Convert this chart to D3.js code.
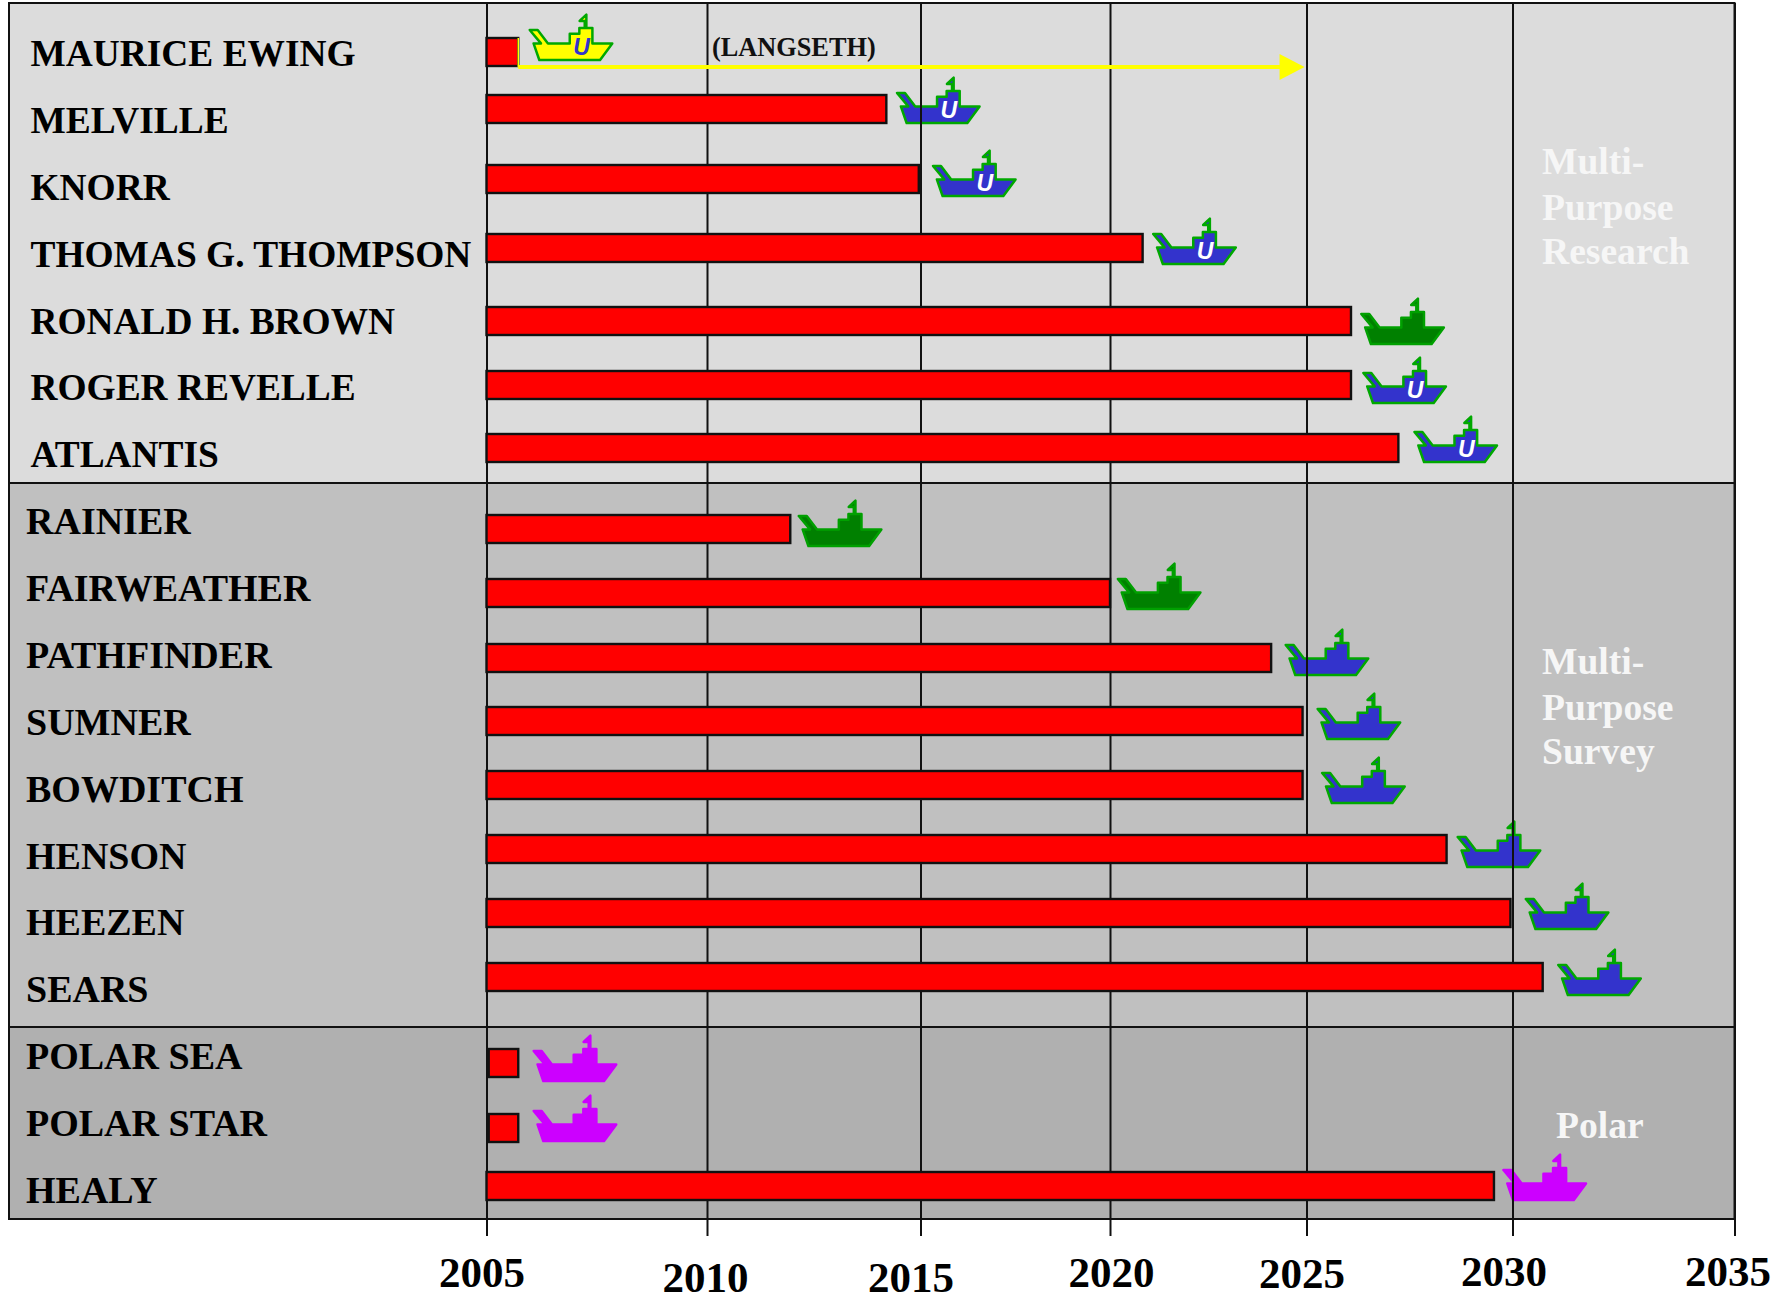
<!DOCTYPE html>
<html>
<head>
<meta charset="utf-8">
<script src="https://cdn.jsdelivr.net/npm/d3@7"></script>
<style>
  body { margin: 0; background: #fff; }
  text { font-family: "Liberation Serif", serif; font-weight: bold; }
</style>
</head>
<body>
<div id="chart"></div>
<script>
// data
const ships = ['MAURICE EWING', 'MELVILLE', 'KNORR', 'THOMAS G. THOMPSON', 'RONALD H. BROWN', 'ROGER REVELLE', 'ATLANTIS',
  'RAINIER', 'FAIRWEATHER', 'PATHFINDER', 'SUMNER', 'BOWDITCH', 'HENSON', 'HEEZEN', 'SEARS',
  'POLAR SEA', 'POLAR STAR', 'HEALY'];
const startYears = [2005, 2005, 2005, 2005, 2005, 2005, 2005, 2005, 2005, 2005, 2005, 2005, 2005, 2005, 2005, 2005.05, 2005.05, 2005];
const endYears = [2005.72, 2014.2, 2014.96, 2020.83, 2026.08, 2026.08, 2027.23, 2011.95, 2020, 2024.1, 2024.9, 2024.9, 2028.4, 2029.95, 2030.68, 2005.72, 2005.72, 2029.55];
const shipYears = [2005.98, 2014.45, 2015.33, 2021.1, 2026.33, 2026.38, 2027.62, 2012.15, 2020.2, 2024.47, 2025.27, 2025.38, 2028.67, 2030.3, 2031.03, 2006.07, 2006.07, 2029.78];
const shipKinds = ['yellow', 'blueU', 'blueU', 'blueU', 'green', 'blueU', 'blueU', 'green', 'green', 'blue', 'blue', 'blue', 'blue', 'blue', 'blue', 'magenta', 'magenta', 'magenta'];
const tickYears = [2005, 2010, 2015, 2020, 2025, 2030, 2035];
const arrowYears = [2005.72, 2024.95];

// layout
const width = 1786, height = 1293;
const tickPx = [486.5, 707, 920.5, 1110, 1306.5, 1512.5, 1734.5];
const rowCentres = [52, 109, 179, 248, 321, 385, 448, 529, 593, 658, 721, 785, 849, 913, 977, 1063, 1128, 1186];
const shipBottoms = [60, 123, 196, 264, 344, 403, 462, 546, 609, 675, 739, 803, 867, 929, 995, 1081, 1141, 1200];
const tickLabelX = [-5, -2, -10, 1, -5, -9, -7];
const tickLabelY = [1287, 1292, 1292, 1287, 1288, 1286, 1286];
const bands = [
  { top: 3, bottom: 483, fill: '#dcdcdc', first: 0, last: 6, labelX: 30.5, labelSize: 37.4 },
  { top: 483, bottom: 1027, fill: '#c0c0c0', first: 7, last: 14, labelX: 26, labelSize: 38 },
  { top: 1027, bottom: 1219, fill: '#b0b0b0', first: 15, last: 17, labelX: 26, labelSize: 38 }
];
const panelLeft = 9;
const barHeight = 28;

const groupLabels = [
  { lines: ['Multi-', 'Purpose', 'Research'], x: 1542, y: [174, 220, 264] },
  { lines: ['Multi-', 'Purpose', 'Survey'], x: 1542, y: [674, 720, 764] },
  { lines: ['Polar'], x: 1556, y: [1138] }
];

const kindStyle = {
  yellow: { fill: '#ffff00', stroke: '#00a800', letter: '#3333cc' },
  blueU: { fill: '#3333cc', stroke: '#00a800', letter: '#ffffff' },
  blue: { fill: '#3333cc', stroke: '#00a800' },
  green: { fill: '#008000', stroke: '#00a000' },
  magenta: { fill: '#cc00ff', stroke: '#cc00ff' }
};

const svg = d3.select('#chart').append('svg')
  .attr('width', width)
  .attr('height', height);

// the year axis in the picture is not evenly spaced
const x = d3.scaleLinear().domain(tickYears).range(tickPx);
const rowY = d3.scaleOrdinal().domain(ships).range(rowCentres);
const shipY = d3.scaleOrdinal().domain(ships).range(shipBottoms);
const labelY = d3.scalePoint().domain(ships).range([66, 1203]);

const rows = ships.map((name, i) => {
  const band = bands.find(b => i >= b.first && i <= b.last);
  return {
    name, start: startYears[i], end: endYears[i], shipYear: shipYears[i], kind: shipKinds[i],
    labelX: band.labelX, labelSize: band.labelSize
  };
});

// background bands
svg.selectAll('.band')
  .data(bands)
  .enter().append('rect')
  .attr('class', 'band')
  .attr('x', panelLeft)
  .attr('y', d => d.top)
  .attr('width', x(2035) - panelLeft)
  .attr('height', d => d.bottom - d.top)
  .attr('fill', d => d.fill)
  .attr('stroke', '#111')
  .attr('stroke-width', 2);

// ship icons, drawn from the lower left corner of the hull
const hull = [[0, -31.3], [8.3, -31.3], [19, -17.3], [41.7, -17.3], [41.7, -27.3], [51.7, -27.3], [51.7, -33.3],
  [57.3, -33.3], [57.3, -40.7], [52, -40.7], [59, -47.3], [59, -33.3], [65.3, -33.3], [65.3, -17.3], [86, -17.3],
  [73.3, 0], [10, 0], [4, -17.3], [11.7, -17.3]];

const ship = svg.selectAll('.ship')
  .data(rows)
  .enter().append('g')
  .attr('class', 'ship')
  .attr('transform', d => `translate(${x(d.shipYear)},${shipY(d.name)}) scale(0.96)`);

ship.append('path')
  .attr('d', d3.line()(hull) + 'Z')
  .attr('fill', d => kindStyle[d.kind].fill)
  .attr('stroke', d => kindStyle[d.kind].stroke)
  .attr('stroke-width', 2.6)
  .attr('stroke-linejoin', 'round');

ship.filter(d => kindStyle[d.kind].letter)
  .append('text')
  .attr('x', 54)
  .attr('y', -5)
  .attr('text-anchor', 'middle')
  .style('font-family', '"Liberation Sans", sans-serif')
  .style('font-style', 'italic')
  .style('font-size', '24px')
  .attr('fill', d => kindStyle[d.kind].letter)
  .text('U');

// grid lines and ticks come from the axis, they sit on top of the ships
const axis = svg.append('g')
  .attr('transform', `translate(0,${bands[2].bottom})`)
  .call(d3.axisBottom(x).tickValues(tickYears).tickFormat(d3.format('d')).tickSize(17));
axis.select('.domain').remove();
axis.selectAll('.tick line').attr('stroke', '#111').attr('stroke-width', 2);
axis.selectAll('.tick').append('line')
  .attr('y1', 0)
  .attr('y2', bands[0].top - bands[2].bottom)
  .attr('stroke', '#111')
  .attr('stroke-width', 2);
axis.selectAll('.tick text')
  .attr('x', (d, i) => tickLabelX[i])
  .attr('y', (d, i) => tickLabelY[i] - bands[2].bottom)
  .attr('dy', 0)
  .attr('fill', '#000')
  .style('font-family', '"Liberation Serif", serif')
  .style('font-size', '43px');
axis.attr('font-family', null).attr('font-size', null);

// bars
svg.selectAll('.bar')
  .data(rows)
  .enter().append('rect')
  .attr('class', 'bar')
  .attr('x', d => x(d.start))
  .attr('y', d => rowY(d.name) - barHeight / 2)
  .attr('width', d => x(d.end) - x(d.start))
  .attr('height', barHeight)
  .attr('fill', '#ff0000')
  .attr('stroke', '#111')
  .attr('stroke-width', 2.4);

// ship names
svg.selectAll('.ship-label')
  .data(rows)
  .enter().append('text')
  .attr('class', 'ship-label')
  .attr('x', d => d.labelX)
  .attr('y', d => labelY(d.name))
  .attr('fill', '#000')
  .style('font-size', d => `${d.labelSize}px`)
  .text(d => d.name);

// group names
groupLabels.forEach(g => {
  svg.selectAll(null)
    .data(g.lines)
    .enter().append('text')
    .attr('x', g.x)
    .attr('y', (d, i) => g.y[i])
    .attr('fill', '#f6f6f6')
    .style('font-size', '37.6px')
    .text(d => d);
});

// Langseth arrow, it also covers the right edge of the Ewing bar
const arrowY = 67;
svg.append('line')
  .attr('x1', x(arrowYears[0]))
  .attr('x2', x(arrowYears[0]))
  .attr('y1', rowY(ships[0]) - barHeight / 2)
  .attr('y2', arrowY)
  .attr('stroke', '#ffff00')
  .attr('stroke-width', 1.5);
svg.append('line')
  .attr('x1', x(arrowYears[0]))
  .attr('x2', x(arrowYears[1]) - 20)
  .attr('y1', arrowY)
  .attr('y2', arrowY)
  .attr('stroke', '#ffff00')
  .attr('stroke-width', 4);
svg.append('path')
  .attr('d', d3.line()([[x(arrowYears[1]) - 25, arrowY - 13], [x(arrowYears[1]), arrowY], [x(arrowYears[1]) - 25, arrowY + 13]]) + 'Z')
  .attr('fill', '#ffff00');
svg.append('text')
  .attr('x', 712)
  .attr('y', 56)
  .attr('fill', '#111')
  .style('font-size', '26.3px')
  .text('(LANGSETH)');
</script>
</body>
</html>
